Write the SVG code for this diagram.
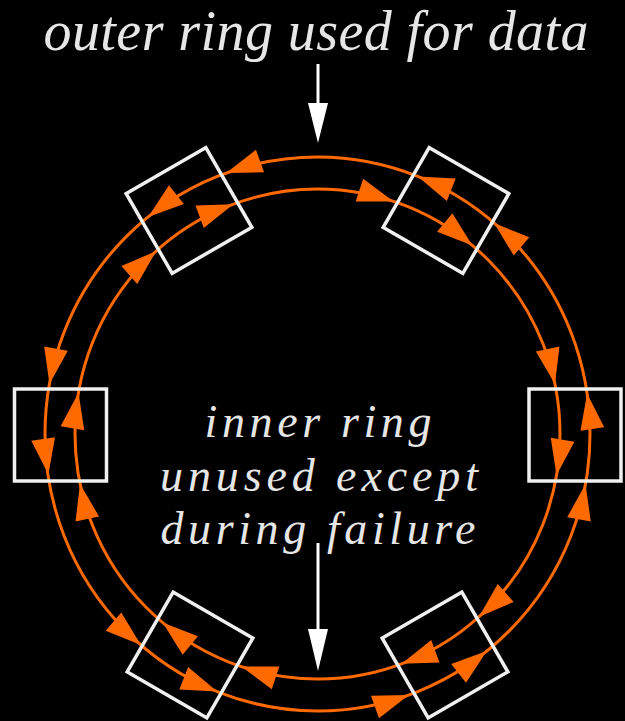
<svg xmlns="http://www.w3.org/2000/svg" width="625" height="721" viewBox="0 0 625 721">
<style>
.ring{fill:none;stroke:#ff6a00;stroke-width:3}
.ah{fill:#ff6a00}
.node{fill:none;stroke:#f0f0f0;stroke-width:3.5}
.lbl{font-family:"Liberation Serif","Times New Roman",serif;font-style:italic;fill:#e6e6e6;text-anchor:middle}
.ptr{stroke:#ffffff;stroke-width:3;fill:none}
.ptrhead{fill:#ffffff}
</style>
<defs>
<polygon id="ah" class="ah" points="0,0 -36,-12 -36,12"/>
</defs>
<rect x="0" y="0" width="625" height="721" fill="#000000"/>

<g id="connectors">
<ellipse class="ring" cx="317.5" cy="434" rx="272.5" ry="277"/>
<ellipse class="ring" cx="317.5" cy="434" rx="242.5" ry="245"/>
<!-- outer ring arrows (counter-clockwise) -->
<use href="#ah" transform="translate(585.5 484) rotate(-79.6)"/>
<use href="#ah" transform="translate(408.9 694.9) rotate(-19.6)"/>
<use href="#ah" transform="translate(140.9 645) rotate(40.4)"/>
<use href="#ah" transform="translate(49.5 384) rotate(100.4)"/>
<use href="#ah" transform="translate(226.1 173.1) rotate(160.4)"/>
<use href="#ah" transform="translate(494.1 223.1) rotate(220.4)"/>
<use href="#ah" transform="translate(587.1 393.5) rotate(261.6)"/>
<use href="#ah" transform="translate(486.8 651.1) rotate(-38.4)"/>
<use href="#ah" transform="translate(217.2 691.5) rotate(21.6)"/>
<use href="#ah" transform="translate(48.4 474.5) rotate(81.6)"/>
<use href="#ah" transform="translate(148.2 216.9) rotate(141.6)"/>
<use href="#ah" transform="translate(417.8 176.5) rotate(201.6)"/>
<!-- inner ring arrows (clockwise) -->
<use href="#ah" transform="translate(555 384.3) rotate(78.3)"/>
<use href="#ah" transform="translate(478.8 616.9) rotate(138.3)"/>
<use href="#ah" transform="translate(241.4 666.6) rotate(198.3)"/>
<use href="#ah" transform="translate(80 483.7) rotate(258.3)"/>
<use href="#ah" transform="translate(156.2 251.1) rotate(318.3)"/>
<use href="#ah" transform="translate(393.6 201.4) rotate(18.3)"/>
<use href="#ah" transform="translate(556.5 475.3) rotate(99.7)"/>
<use href="#ah" transform="translate(401.6 663.8) rotate(159.7)"/>
<use href="#ah" transform="translate(162.6 622.5) rotate(219.7)"/>
<use href="#ah" transform="translate(78.5 392.7) rotate(279.7)"/>
<use href="#ah" transform="translate(233.4 204.2) rotate(339.7)"/>
<use href="#ah" transform="translate(472.4 245.5) rotate(39.7)"/>
</g>

<g id="node-left"><rect class="node" x="14.5" y="389" width="92" height="92"/></g>
<g id="node-right"><rect class="node" x="529" y="389" width="92" height="92"/></g>
<g id="node-top-left"><rect class="node" x="-46" y="-46" width="92" height="92" transform="translate(189 210.5) rotate(-30)"/></g>
<g id="node-top-right"><rect class="node" x="-46" y="-46" width="92" height="92" transform="translate(446 210.5) rotate(30)"/></g>
<g id="node-bottom-left"><rect class="node" x="-46" y="-46" width="92" height="92" transform="translate(190 655) rotate(30)"/></g>
<g id="node-bottom-right"><rect class="node" x="-46" y="-46" width="92" height="92" transform="translate(445 655) rotate(-30)"/></g>

<g id="label-outer">
<text class="lbl" x="316" y="50" font-size="56" textLength="545" lengthAdjust="spacing">outer ring used for data</text>
<line class="ptr" x1="318" y1="64" x2="318" y2="106"/>
<polygon class="ptrhead" points="318,143 308,103 328,103"/>
</g>
<g id="label-inner">
<text class="lbl" x="318" y="437" font-size="46" textLength="227" lengthAdjust="spacing">inner ring</text>
<text class="lbl" x="319" y="490.5" font-size="46" textLength="318" lengthAdjust="spacing">unused except</text>
<text class="lbl" x="318" y="544" font-size="46" textLength="315" lengthAdjust="spacing">during failure</text>
<line class="ptr" x1="318" y1="543" x2="318" y2="632"/>
<polygon class="ptrhead" points="318,671 308,629 328,629"/>
</g>
</svg>
